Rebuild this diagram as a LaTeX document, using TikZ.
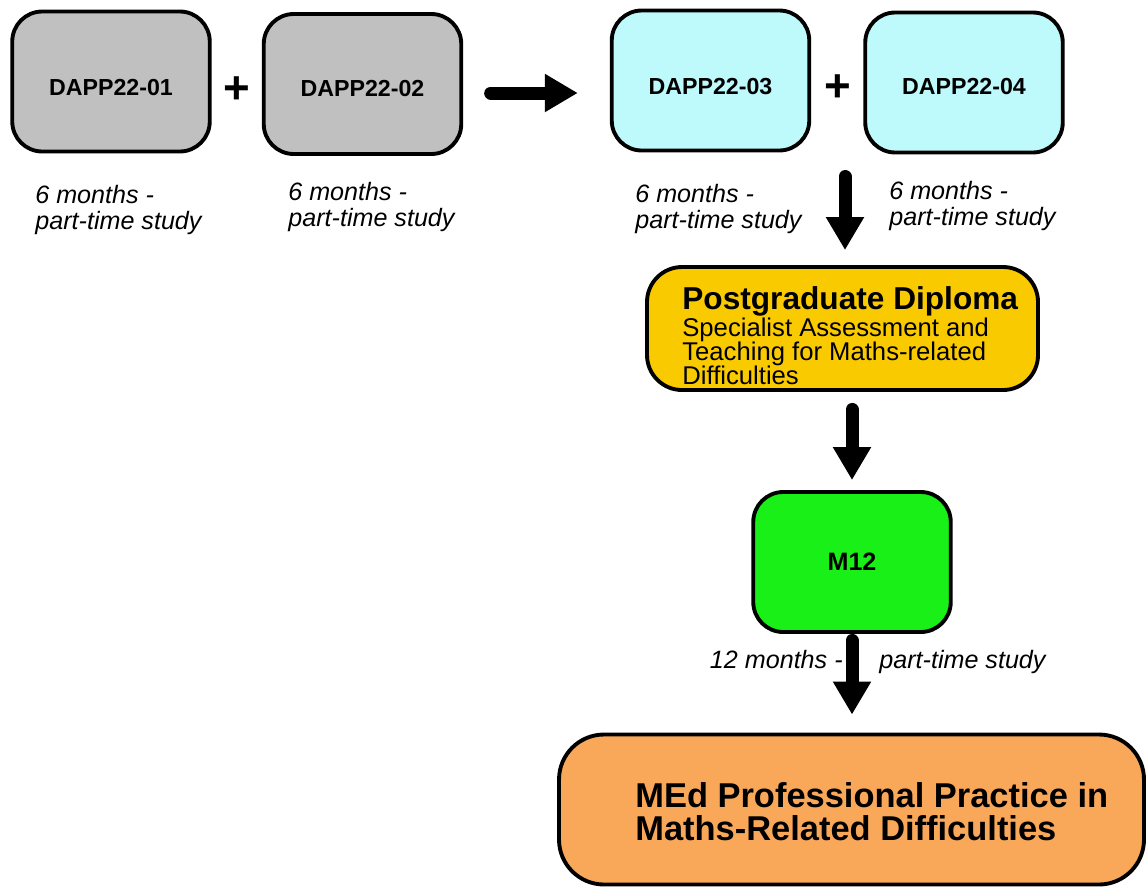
\documentclass[tikz,border=0pt]{standalone}
\usepackage{fontspec}
\setmainfont{Liberation Sans}
\usetikzlibrary{arrows.meta, positioning, calc}
\definecolor{modgrey}{RGB}{192,192,192}
\definecolor{modcyan}{RGB}{190,249,251}
\definecolor{diplomayellow}{RGB}{250,202,0}
\definecolor{mgreen}{RGB}{24,240,24}
\definecolor{medorange}{RGB}{249,168,90}

\begin{document}
\begin{tikzpicture}[
    module/.style={draw, line width=2.2pt, rounded corners=0.6cm, minimum width=3.95cm, minimum height=2.8cm, font=\fontsize{13.2}{15}\selectfont\bfseries, align=center},
    award/.style={draw, line width=2.2pt, rounded corners=0.7cm},
    awardtext/.style={anchor=west, align=left, inner sep=0pt},
    studytime/.style={font={\fontsize{14.3}{14.8}\selectfont\itshape\lineskiplimit=-5pt\relax}, align=left, inner sep=0pt},
    plussign/.style={font=\fontsize{26}{26}\selectfont\bfseries, inner sep=0pt},
    bigarrow/.style={-{Triangle[length=0.66cm, width=0.72cm]}, line width=0.26cm, line cap=round}
]
    \useasboundingbox (0,0) rectangle (22.96,-17.8);

    % First year modules
    \node[module, fill=modgrey, text height=16pt, text depth=0pt] (d01) at (2.22,-1.63) {DAPP22-01};
    \node[module, fill=modgrey, text height=14pt, text depth=0pt] (d02) at (7.25,-1.68) {DAPP22-02};
    \node[plussign] (plus1) at (4.74,-1.8) {+};

    % Second year modules
    \node[module, fill=modcyan, text height=16pt, text depth=0pt] (d03) at (14.21,-1.61) {DAPP22-03};
    \node[module, fill=modcyan, text height=14pt, text depth=0pt] (d04) at (19.28,-1.65) {DAPP22-04};
    \node[plussign] (plus2) at (16.76,-1.76) {+};

    % Study time
    \node[studytime, anchor=west] (t01) at (0.7,-4.2) {6 months -\\part-time study};
    \node[studytime, anchor=west] (t02) at (5.76,-4.14) {6 months -\\part-time study};
    \node[studytime, anchor=west] (t03) at (12.7,-4.18) {6 months -\\part-time study};
    \node[studytime, anchor=west] (t04) at (17.78,-4.12) {6 months -\\part-time study};

    % Postgraduate Diploma
    \node[award, fill=diplomayellow, minimum width=7.82cm, minimum height=2.46cm] (pgdip) at (16.85,-6.57) {};
    \node[awardtext, font={\fontsize{14.6}{13.7}\selectfont\lineskiplimit=-5pt\relax}] (pgdiptext) at (13.64,-6.72)
        {{\fontsize{18}{18}\selectfont\bfseries Postgraduate Diploma}\\[1.7pt]
         Specialist Assessment and\\Teaching for Maths-related\\Difficulties};

    % Dissertation module
    \node[module, fill=mgreen, font=\fontsize{14.3}{16}\selectfont\bfseries] (m12) at (17.04,-11.24) {M12};
    \node[studytime, anchor=base east] (t12a) at (16.86,-13.36) {12 months -};
    \node[studytime, anchor=base west] (t12b) at (17.58,-13.36) {part-time study};

    % MEd
    \node[award, fill=medorange, rounded corners=0.9cm, minimum width=11.7cm, minimum height=3.0cm] (med) at (17.03,-16.19) {};
    \node[awardtext, font={\fontsize{19.6}{18.8}\selectfont\bfseries\lineskiplimit=-5pt\relax}] (medtext) at (12.7,-16.24)
        {MEd Professional Practice in\\Maths-Related Difficulties};

    % Arrows
    \coordinate (split) at (16.9,-3.53);
    \draw[bigarrow, shorten <=0.55cm, shorten >=0.64cm] ([yshift=-0.18cm]d02.east) -- ([yshift=-0.18cm]d02.east -| d03.west);
    \draw[bigarrow, shorten >=0.3cm] (split) -- (split |- pgdip.north);
    \draw[bigarrow, shorten <=0.35cm, shorten >=0.2cm] (m12.north |- pgdip.south) -- (m12.north);
    \draw[bigarrow, shorten <=0.13cm, shorten >=0.36cm] (m12.south) -- (m12.south |- med.north);
\end{tikzpicture}
\end{document}
